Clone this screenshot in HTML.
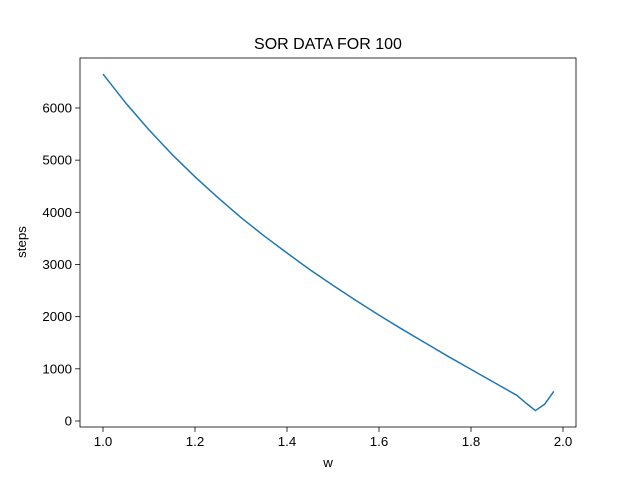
<!DOCTYPE html>
<html><head><meta charset="utf-8"><style>body{margin:0;background:#fff}svg{font-family:"Liberation Sans","DejaVu Sans",sans-serif}</style></head>
<body>
<svg id="c" width="640" height="480" xmlns="http://www.w3.org/2000/svg">
<rect width="640" height="480" fill="#fff"/>
</svg>
<script>
const wValues=[1.0,1.05,1.1,1.15,1.2,1.25,1.3,1.35,1.4,1.45,1.5,1.55,1.6,1.65,1.7,1.75,1.8,1.85,1.9,1.92,1.94,1.96,1.98];
const stepValues=[6650,6090,5580,5110,4680,4280,3900,3550,3220,2900,2600,2310,2030,1760,1500,1240,990,740,490,340,200,320,570];
const xTicks=[1.0,1.2,1.4,1.6,1.8,2.0];
const yTicks=[0,1000,2000,3000,4000,5000,6000];
const svg=document.getElementById('c');const NS='http://www.w3.org/2000/svg';
const L=80,R=576,T=58,B=427;
const xs=v=>103+(v-1.0)*460;
const ys=v=>421-v*0.05217;
function mk(t,a,p){const e=document.createElementNS(NS,t);for(const k in a)e.setAttribute(k,a[k]);(p||svg).appendChild(e);return e;}
xTicks.forEach(t=>{const x=xs(t);
const l=mk('line',{x1:x,x2:x,y1:B,y2:B+4.9,stroke:'#000','stroke-width':0.8});


const tx=mk('text',{x:x,y:B+19,'text-anchor':'middle','font-size':13.3});tx.textContent=t.toFixed(1);

});
yTicks.forEach(t=>{const y=ys(t);
const l=mk('line',{x1:L-4.9,x2:L,y1:y,y2:y,stroke:'#000','stroke-width':0.8});


const tx=mk('text',{x:L-8,y:y+4.5,'text-anchor':'end','font-size':13.3});tx.textContent=t;

});
const pl=mk('polyline',{points:wValues.map((w,i)=>xs(w)+','+ys(stepValues[i])).join(' '),fill:'none',stroke:'#1f77b4','stroke-width':1.5,'stroke-linejoin':'round'});


const fr=mk('rect',{x:L,y:T,width:R-L,height:B-T,fill:'none',stroke:'#000','stroke-width':0.8});


const ti=mk('text',{x:328,y:49,'text-anchor':'middle','font-size':16});ti.textContent='SOR DATA FOR 100';


const xl=mk('text',{x:328,y:467,'text-anchor':'middle','font-size':13.3});xl.textContent='w';


const yl=mk('text',{x:0,y:0,'text-anchor':'middle','font-size':13.3,transform:'translate(26,242) rotate(-90)'});yl.textContent='steps';


</script>
</body></html>
